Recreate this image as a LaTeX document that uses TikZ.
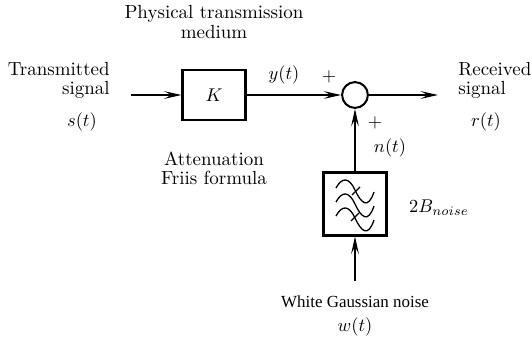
\documentclass[tikz,border=0pt]{standalone}
\usepackage{fontspec}
\newfontfamily\noisefont{Liberation Serif}
\usetikzlibrary{arrows.meta}
\tikzset{
  bloco/.style={draw, line width=1.1pt, minimum width=34.2pt, minimum height=27.2pt, inner sep=0pt},
  soma/.style={draw, circle, line width=1.1pt, minimum size=14pt, inner sep=0pt},
  texto/.style={inner sep=0pt, font=\fontsize{10.3}{10.4}\selectfont},
  sinal/.style={line width=0.55pt, -{Stealth[length=9.5pt, width=4.2pt, inset=4pt]}},
  onda/.style={line width=0.7pt}
}
\begin{document}
\begin{tikzpicture}[x=0.543pt, y=-0.543pt]
      \useasboundingbox (0,0) rectangle (532,341);

      % Blocos
      \node[bloco] (canal) at (214,95) {$K$};
      \node[soma] (soma) at (355,95) {};
      \node[bloco, minimum height=34.2pt] (filtro) at (355,204) {};

      % Extremidades livres
      \coordinate (entrada) at (131,95);
      \coordinate (saida) at (438,95);
      \coordinate (ruido) at (355,281);

      % Ligacoes
      \draw[sinal] (entrada) -- (canal);
      \draw[sinal] (canal) -- (soma);
      \draw[sinal] (soma) -- (saida);
      \draw[sinal] (filtro) -- (soma);
      \draw[sinal] (ruido) -- (filtro);

      % Ondas do filtro
      \foreach \dy in {0,14,28} {
        \draw[onda] (336,188+\dy) .. controls (342,177+\dy) and (349,177+\dy) .. (355,190+\dy)
                    .. controls (361,203+\dy) and (368,210+\dy) .. (374,192+\dy);
      }
      \draw[onda] (352,195) -- (360,187);
      \draw[onda] (351,221) -- (359,213);

      % Textos
      \node[texto, align=center] (meio) at (214,22) {Physical transmission\\medium};
      \node[texto, align=right, anchor=east] (transmitido) at (110,80) {Transmitted\\signal};
      \node[texto] (st) at (82,122) {$s(t)$};
      \node[texto, align=center] (friis) at (214,168) {Attenuation\\Friis formula};
      \node[texto] (yt) at (284,75) {$y(t)$};
      \node[texto] (mais1) at (329,77) {$+$};
      \node[texto] (mais2) at (375,123) {$+$};
      \node[texto, align=left, anchor=west] (recebido) at (458,80) {Received\\signal};
      \node[texto] (rt) at (486,122) {$r(t)$};
      \node[texto] (nt) at (390,148) {$n(t)$};
      \node[texto] (banda) at (439,208) {$2B_{noise}$};
      \node[texto, font=\fontsize{9.2}{10}\selectfont] (branco) at (355,302) {\noisefont White Gaussian noise};
      \node[texto] (wt) at (355,327) {$w(t)$};
\end{tikzpicture}
\end{document}
